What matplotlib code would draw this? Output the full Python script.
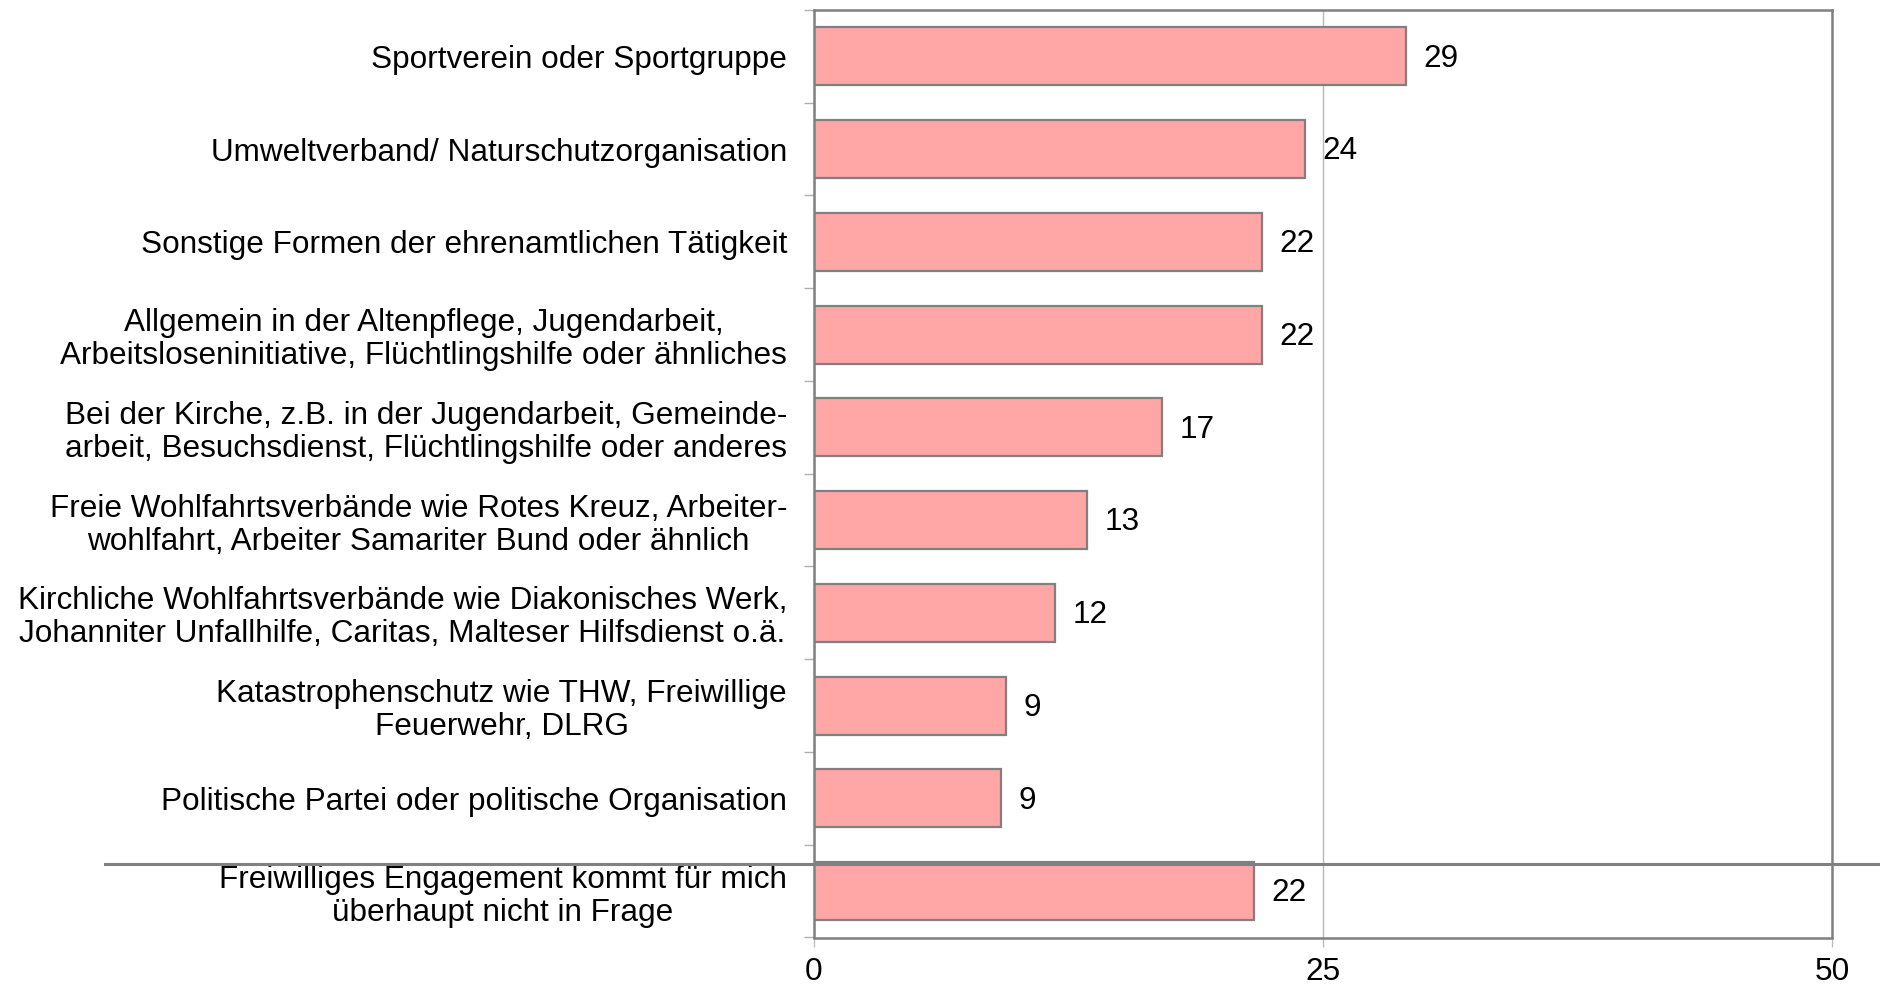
import matplotlib
matplotlib.use("Agg")
import matplotlib.pyplot as plt
from matplotlib.lines import Line2D
import numpy as np

plt.rcParams['font.family'] = ['Liberation Sans', 'DejaVu Sans']

categories = [
    "Sportverein oder Sportgruppe",
    "Umweltverband/ Naturschutzorganisation",
    "Sonstige Formen der ehrenamtlichen Tätigkeit",
    "Allgemein in der Altenpflege, Jugendarbeit,\nArbeitsloseninitiative, Flüchtlingshilfe oder ähnliches",
    "Bei der Kirche, z.B. in der Jugendarbeit, Gemeinde-\narbeit, Besuchsdienst, Flüchtlingshilfe oder anderes",
    "Freie Wohlfahrtsverbände wie Rotes Kreuz, Arbeiter-\nwohlfahrt, Arbeiter Samariter Bund oder ähnlich",
    "Kirchliche Wohlfahrtsverbände wie Diakonisches Werk,\nJohanniter Unfallhilfe, Caritas, Malteser Hilfsdienst o.ä.",
    "Katastrophenschutz wie THW, Freiwillige\nFeuerwehr, DLRG",
    "Politische Partei oder politische Organisation",
    "Freiwilliges Engagement kommt für mich\nüberhaupt nicht in Frage",
]
values = [29.1, 24.1, 22.0, 22.0, 17.1, 13.4, 11.85, 9.45, 9.2, 21.6]
value_labels = ["29", "24", "22", "22", "17", "13", "12", "9", "9", "22"]
xticks = [0, 25, 50]

W, H = 1881, 985
fig = plt.figure(figsize=(W / 100, H / 100), dpi=100)
ax = fig.add_axes([814 / W, 1 - 937.5 / H, (1832 - 814) / W, (937.5 - 10) / H])

y = np.arange(len(categories))
ax.barh(y, values, height=0.626, color='#FFA6A6', edgecolor='#808080',
        linewidth=1.6, zorder=3)

for yi, v, lab in zip(y, values, value_labels):
    ax.annotate(lab, xy=(v, yi), xytext=(12.5, -1.6), textcoords='offset points',
                ha='left', va='center', fontsize=22.7, color='black', zorder=4)

ax.set_xlim(0, 50)
ax.set_ylim(len(categories) - 0.5, -0.5)
ax.set_xticks(xticks)
ax.set_xticklabels([str(t) for t in xticks], fontsize=22.7)
ax.xaxis.grid(True, color='#b8b8b8', linewidth=1.0, zorder=0)
ax.set_axisbelow(True)
ax.tick_params(axis='x', length=6.5, width=0.9, color='#b8b8b8', pad=7.5)

ax.set_yticks(y)
ax.set_yticklabels(categories, fontsize=22.7)
for t in ax.get_yticklabels():
    t.set_multialignment('center')
    t.set_linespacing(1.13)
ax.set_yticks(np.arange(len(categories) + 1) - 0.5, minor=True)
ax.tick_params(axis='y', which='major', length=0, pad=19.4)
ax.tick_params(axis='y', which='minor', length=7.2, width=1.0, color='#b0b0b0')

for s in ax.spines.values():
    s.set_color('#808080')
    s.set_linewidth(1.8)
    s.set_zorder(5)

# stray separator line present in the original rendering
fig.add_artist(Line2D([105 / W, 1.0], [1 - 864 / H, 1 - 864 / H],
                      transform=fig.transFigure, color='#808080',
                      linewidth=2.2, zorder=10))

fig.savefig("out.png", dpi=100, facecolor='white')
